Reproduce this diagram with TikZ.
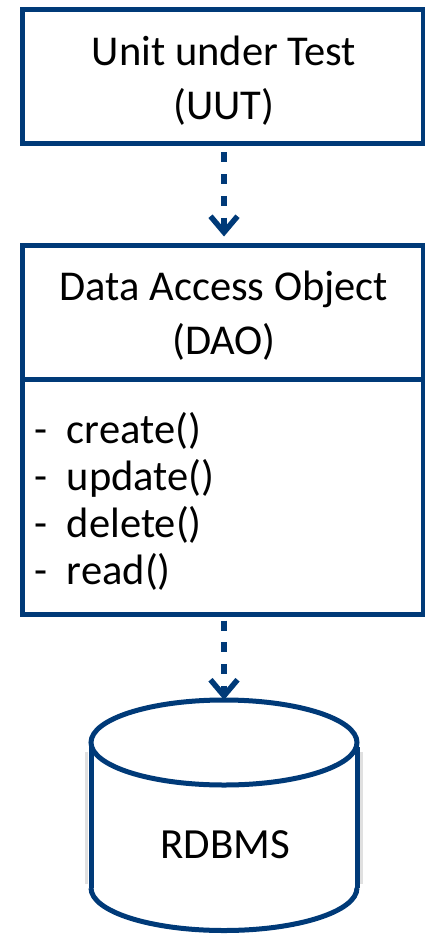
\documentclass[tikz,border=0pt]{standalone}
\usepackage{fontspec}
\setmainfont{Carlito}
\usetikzlibrary{arrows.meta}
\definecolor{navy}{RGB}{0,58,120}
\begin{document}
\begin{tikzpicture}[x=1pt,y=-1pt,
  box/.style={draw=navy, line width=5pt, fill=white, inner sep=0pt},
  title/.style={font=\fontsize{42.5}{54}\selectfont, align=center, text=black},
  method/.style={font=\fontsize{42.5}{47}\selectfont, anchor=base west, inner sep=0pt, text=black},
  outline/.style={draw=navy, line width=5pt},
  conn/.style={draw=navy, line width=5.5pt, dash pattern=on 10pt off 11.7pt,
    -{Straight Barb[length=16pt,width=27pt]}},
  ]
\useasboundingbox (0,0) rectangle (425,936);

\coordinate (axis) at (224,0);
\coordinate (div) at (0,379);

% Unit under test
\node[box, minimum width=401pt, minimum height=134pt] (uut) at (223,77) {};
\node[title] (uuttext) at (224,81) {Unit under Test\\(UUT)};

% Data access object with its method compartment
\node[box, minimum width=401pt, minimum height=369.5pt] (dao) at (223,429.75) {};
\draw[outline] (dao.west |- div) -- (dao.east |- div);
\node[title] (daotext) at (224,316) {Data Access Object\\(DAO)};
\node[method] (m1) at (34.7,443) {\makebox[32pt][l]{-}create()};
\node[method] (m2) at (34.7,490) {\makebox[32pt][l]{-}update()};
\node[method] (m3) at (34.7,537) {\makebox[32pt][l]{-}delete()};
\node[method] (m4) at (34.7,584) {\makebox[32pt][l]{-}read()};

% Database cylinder
\draw[black!12, line width=3pt] (86.5,752) -- (86.5,884);
\draw[black!12, line width=3pt] (361.5,752) -- (361.5,884);
\draw[outline, fill=white] (224,742.5) ellipse [x radius=133pt, y radius=42.5pt];
\draw[outline] (91,747) -- (91,888);
\draw[outline] (357,747) -- (357,888);
\draw[outline] (91,888) arc[start angle=180, end angle=360, x radius=133pt, y radius=42.5pt];
\node[font=\fontsize{43}{50}\selectfont, anchor=base, text=black] (db) at (225.5,858) {RDBMS};
\coordinate (dbtop) at (224,700);

% Dependencies
\draw[conn, shorten <=6pt, shorten >=6pt] (uut.south -| axis) -- (dao.north -| axis);
\draw[conn, shorten <=3.5pt] (dao.south -| axis) -- (dbtop);
\end{tikzpicture}
\end{document}
